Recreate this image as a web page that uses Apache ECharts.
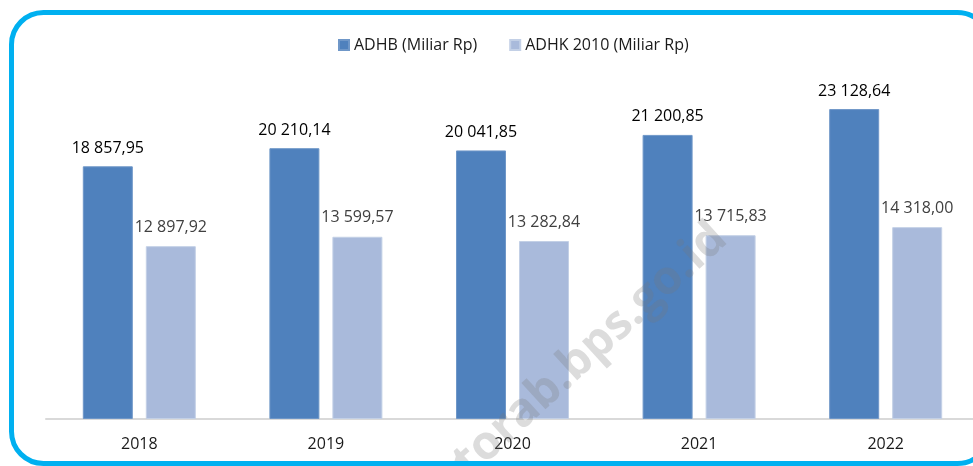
<!DOCTYPE html>
<html>
<head>
<meta charset="utf-8">
<script src="https://cdn.jsdelivr.net/npm/echarts@6/dist/echarts.min.js"></script>
<style>
  html, body { margin: 0; padding: 0; background: #fff; }
  #chart { width: 973px; height: 466px; }
</style>
</head>
<body>
<div id="chart"></div>
<script>
// PDRB chart - ADHB vs ADHK 2010
var years = ['2018', '2019', '2020', '2021', '2022'];
var adhb = [18857.95, 20210.14, 20041.85, 21200.85, 23128.64];
var adhk = [12897.92, 13599.57, 13282.84, 13715.83, 14318.00];
var seriesNames = ['ADHB (Miliar Rp)', 'ADHK 2010 (Miliar Rp)'];

var font = '"Open Sans", "Noto Sans", sans-serif';

// 18857.95 -> "18 857,95"
function fmt(v) {
  var parts = v.toFixed(2).split('.');
  var intPart = parts[0].replace(/\B(?=(\d{3})+(?!\d))/g, ' ');
  return intPart + ',' + parts[1];
}

var chart = echarts.init(document.getElementById('chart'), null, { renderer: 'canvas' });
chart.setOption({
  animation: false,
  backgroundColor: '#ffffff',
  textStyle: { fontFamily: font },
  legend: {
    data: seriesNames,
    left: 333,
    top: 32,
    itemWidth: 10,
    itemHeight: 10,
    itemGap: 32,
    icon: 'rect',
    textStyle: { color: '#1a1a1a', fontSize: 16, fontFamily: font }
  },
  grid: { left: 46, width: 933, top: 84, height: 335, outerBoundsMode: 'none', containLabel: false },
  xAxis: {
    type: 'category',
    data: years,
    axisLine: { lineStyle: { color: '#d9d9d9', width: 2 } },
    axisTick: { show: false },
    axisLabel: { color: '#1a1a1a', fontSize: 16, margin: 17, fontFamily: font }
  },
  yAxis: {
    type: 'value',
    min: 0,
    max: 25000,
    show: false,
    splitLine: { show: false }
  },
  series: [
    {
      name: seriesNames[0],
      type: 'bar',
      data: adhb,
      barWidth: 50,
      barGap: '26%',
      itemStyle: { color: '#4f81bd', borderColor: '#6f97c8', borderWidth: 1 },
      label: {
        show: true,
        position: 'top',
        distance: 10,
        color: '#000000',
        fontSize: 16,
        fontFamily: font,
        formatter: function(p) { return fmt(p.value); }
      }
    },
    {
      name: seriesNames[1],
      type: 'bar',
      data: adhk,
      barWidth: 50,
      itemStyle: { color: '#a9badb', borderColor: '#c3d0e6', borderWidth: 1 },
      label: {
        show: true,
        position: 'top',
        distance: 11,
        color: '#404040',
        fontSize: 16,
        fontFamily: font,
        formatter: function(p) { return fmt(p.value); }
      }
    }
  ],
  graphic: [
    {
      // rounded frame
      type: 'rect',
      shape: { x: 11.5, y: 12.5, width: 978, height: 451, r: 32 },
      style: { fill: 'none', stroke: '#00b0f0', lineWidth: 5 },
      z: 100
    },
    {
      // faint watermark
      type: 'text',
      x: 736,
      y: 249,
      rotation: 0.74,
      style: {
        text: 'torab.bps.go.id',
        fill: 'rgba(120,120,120,0.26)',
        font: 'bold 47px ' + font,
        align: 'right',
        verticalAlign: 'bottom'
      },
      z: 50
    }
  ]
});
window.addEventListener('resize', function() { chart.resize(); });
</script>
</body>
</html>
